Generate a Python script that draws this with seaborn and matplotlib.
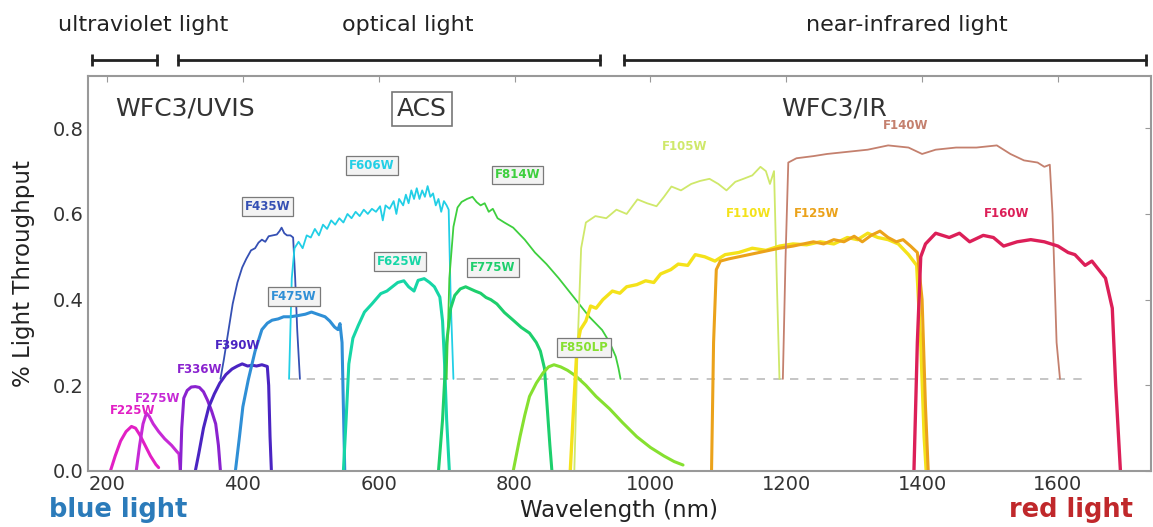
import matplotlib
matplotlib.use("Agg")
import matplotlib.pyplot as plt
import seaborn as sns

# filter throughput curves (wavelength in nm, throughput fraction)
wl_f225w = [205, 212, 220, 228, 236, 242, 248, 256, 264, 272, 276]
tp_f225w = [0.0, 0.035, 0.07, 0.092, 0.104, 0.1, 0.085, 0.06, 0.035, 0.015, 0.008]

wl_f275w = [243, 248, 253, 258, 262, 268, 276, 285, 295, 303, 306, 308]
tp_f275w = [0.0, 0.06, 0.11, 0.135, 0.128, 0.11, 0.092, 0.075, 0.06, 0.045, 0.04, 0.0]

wl_f336w = [308, 310, 313, 318, 324, 330, 336, 342, 348, 354, 360, 364, 367]
tp_f336w = [0.0, 0.1, 0.17, 0.188, 0.196, 0.197, 0.195, 0.185, 0.165, 0.14, 0.11, 0.06, 0.0]

wl_f390w = [330, 335, 342, 350, 358, 366, 375, 384, 392, 399, 407, 414, 420, 428, 436, 438, 440, 442]
tp_f390w = [0.0, 0.04, 0.1, 0.15, 0.18, 0.205, 0.225, 0.238, 0.245, 0.25, 0.245, 0.247, 0.245,
            0.248, 0.244, 0.2, 0.08, 0.0]

wl_f435w = [367, 372, 378, 385, 392, 399, 405, 412, 418, 423, 428, 433, 438, 444, 450, 454, 457,
            461, 465, 470, 474, 477, 480, 484]
tp_f435w = [0.215, 0.26, 0.32, 0.39, 0.44, 0.475, 0.495, 0.515, 0.52, 0.533, 0.54, 0.535, 0.548,
            0.55, 0.552, 0.56, 0.568, 0.555, 0.55, 0.55, 0.545, 0.45, 0.33, 0.215]

wl_f475w = [389, 395, 400, 408, 418, 428, 436, 443, 452, 460, 470, 482, 492, 501, 510, 521, 528,
            535, 540, 543, 546, 548, 550]
tp_f475w = [0.0, 0.08, 0.15, 0.213, 0.28, 0.33, 0.345, 0.352, 0.355, 0.36, 0.36, 0.363, 0.366,
            0.371, 0.366, 0.36, 0.35, 0.336, 0.33, 0.344, 0.3, 0.15, 0.0]

wl_f606w = [468, 472, 476, 482, 488, 494, 500, 506, 512, 518, 524, 530, 536, 542, 548, 554, 560,
            566, 572, 578, 584, 590, 596, 602, 606, 610, 616, 622, 626, 630, 636, 640, 644, 648,
            652, 656, 660, 664, 668, 672, 676, 680, 684, 688, 692, 696, 700, 703, 706, 710]
tp_f606w = [0.215, 0.45, 0.52, 0.535, 0.52, 0.55, 0.545, 0.565, 0.55, 0.575, 0.565, 0.585, 0.575,
            0.59, 0.58, 0.6, 0.59, 0.605, 0.595, 0.61, 0.6, 0.612, 0.605, 0.618, 0.585, 0.62,
            0.612, 0.63, 0.6, 0.635, 0.62, 0.645, 0.625, 0.655, 0.635, 0.66, 0.635, 0.655, 0.64,
            0.665, 0.64, 0.648, 0.62, 0.635, 0.605, 0.63, 0.62, 0.61, 0.4, 0.215]

wl_f625w = [548, 552, 556, 562, 570, 579, 590, 603, 612, 620, 628, 637, 644, 652, 658, 667, 675,
            682, 690, 694, 697, 700, 704]
tp_f625w = [0.0, 0.12, 0.25, 0.31, 0.34, 0.371, 0.39, 0.414, 0.42, 0.43, 0.44, 0.444, 0.43, 0.42,
            0.445, 0.449, 0.44, 0.43, 0.406, 0.35, 0.25, 0.12, 0.0]

wl_f775w = [688, 694, 700, 706, 712, 720, 728, 735, 742, 750, 758, 765, 774, 785, 798, 810, 822,
            832, 838, 844, 848, 852, 855]
tp_f775w = [0.0, 0.12, 0.3, 0.38, 0.41, 0.425, 0.43, 0.425, 0.42, 0.415, 0.405, 0.4, 0.39, 0.37,
            0.352, 0.335, 0.322, 0.3, 0.28, 0.24, 0.15, 0.06, 0.0]

wl_f814w = [700, 704, 710, 716, 722, 730, 738, 744, 750, 756, 762, 768, 775, 785, 798, 815, 830,
            847, 865, 880, 895, 910, 929, 940, 949, 953, 956]
tp_f814w = [0.215, 0.45, 0.57, 0.615, 0.628, 0.635, 0.64, 0.628, 0.62, 0.625, 0.605, 0.612, 0.59,
            0.58, 0.568, 0.54, 0.51, 0.483, 0.45, 0.42, 0.39, 0.36, 0.329, 0.3, 0.267, 0.24, 0.215]

wl_f850lp = [798, 808, 815, 822, 832, 842, 850, 858, 868, 878, 890, 905, 920, 940, 959, 980, 1000,
             1020, 1035, 1048]
tp_f850lp = [0.0, 0.08, 0.13, 0.174, 0.205, 0.229, 0.243, 0.248, 0.243, 0.235, 0.222, 0.2, 0.174,
             0.145, 0.113, 0.08, 0.055, 0.035, 0.022, 0.014]

wl_f105w = [888, 893, 898, 905, 919, 935, 950, 965, 981, 995, 1009, 1020, 1031, 1045, 1060, 1073,
            1087, 1100, 1112, 1125, 1137, 1150, 1162, 1170, 1176, 1182, 1186, 1190]
tp_f105w = [0.0, 0.3, 0.52, 0.58, 0.595, 0.59, 0.61, 0.6, 0.634, 0.625, 0.618, 0.64, 0.664, 0.655,
            0.67, 0.677, 0.682, 0.67, 0.655, 0.675, 0.682, 0.69, 0.71, 0.7, 0.67, 0.7, 0.45, 0.215]

wl_f110w = [882, 887, 892, 897, 905, 912, 920, 930, 944, 955, 965, 980, 993, 1005, 1015, 1030,
            1041, 1055, 1066, 1080, 1095, 1110, 1130, 1150, 1170, 1190, 1210, 1230, 1250, 1270,
            1290, 1305, 1320, 1335, 1350, 1365, 1380, 1392, 1398, 1403, 1406]
tp_f110w = [0.0, 0.15, 0.29, 0.33, 0.35, 0.385, 0.38, 0.4, 0.42, 0.415, 0.43, 0.435, 0.444, 0.44,
            0.46, 0.47, 0.483, 0.48, 0.505, 0.5, 0.49, 0.505, 0.51, 0.52, 0.515, 0.525, 0.53,
            0.528, 0.535, 0.53, 0.545, 0.54, 0.555, 0.545, 0.54, 0.53, 0.505, 0.48, 0.3, 0.08, 0.0]

wl_f125w = [1090, 1093, 1097, 1103, 1115, 1130, 1145, 1160, 1175, 1190, 1210, 1225, 1240, 1255,
            1270, 1285, 1300, 1312, 1325, 1338, 1350, 1362, 1372, 1383, 1393, 1400, 1405, 1409]
tp_f125w = [0.0, 0.3, 0.47, 0.49, 0.495, 0.5, 0.505, 0.51, 0.515, 0.52, 0.525, 0.53, 0.535, 0.53,
            0.54, 0.535, 0.548, 0.535, 0.55, 0.56, 0.545, 0.535, 0.54, 0.525, 0.51, 0.4, 0.15, 0.0]

wl_f140w = [1195, 1199, 1203, 1215, 1240, 1260, 1290, 1320, 1350, 1380, 1400, 1420, 1450, 1480,
            1510, 1530, 1550, 1570, 1580, 1588, 1592, 1598, 1603]
tp_f140w = [0.215, 0.5, 0.72, 0.73, 0.735, 0.74, 0.745, 0.75, 0.76, 0.755, 0.74, 0.75, 0.755,
            0.755, 0.76, 0.74, 0.725, 0.72, 0.71, 0.715, 0.6, 0.3, 0.215]

wl_f160w = [1388, 1393, 1398, 1405, 1420, 1440, 1455, 1470, 1490, 1505, 1520, 1540, 1560, 1580,
            1600, 1615, 1625, 1640, 1650, 1660, 1670, 1680, 1685, 1692]
tp_f160w = [0.0, 0.3, 0.5, 0.53, 0.555, 0.545, 0.555, 0.535, 0.55, 0.545, 0.525, 0.535, 0.54,
            0.535, 0.525, 0.51, 0.505, 0.48, 0.49, 0.47, 0.45, 0.38, 0.2, 0.0]

# filter label positions (nm, throughput) and whether boxed (ACS-style)
filter_names = ["F225W", "F275W", "F336W", "F390W", "F435W", "F475W", "F606W", "F625W",
                "F775W", "F814W", "F850LP", "F105W", "F110W", "F125W", "F140W", "F160W"]
label_wl = [238, 274, 337, 393, 436, 475, 590, 631, 768, 804, 902, 1050, 1144, 1245, 1376, 1525]
label_tp = [0.142, 0.170, 0.238, 0.292, 0.618, 0.408, 0.714, 0.488, 0.476, 0.691, 0.289,
            0.758, 0.602, 0.602, 0.807, 0.602]
label_boxed = [False, False, False, False, True, True, True, True, True, True, True,
               False, False, False, False, False]

# spectral regions along the top
region_names = ["ultraviolet light", "optical light", "near-infrared light"]
region_start = [178, 305, 961]
region_end = [274, 926, 1729]
region_label_x = [253, 643, 1378]

baseline_tp = 0.215
baseline_range = [470, 1638]

curves = [(wl_f225w, tp_f225w), (wl_f275w, tp_f275w), (wl_f336w, tp_f336w), (wl_f390w, tp_f390w),
          (wl_f435w, tp_f435w), (wl_f475w, tp_f475w), (wl_f606w, tp_f606w), (wl_f625w, tp_f625w),
          (wl_f775w, tp_f775w), (wl_f814w, tp_f814w), (wl_f850lp, tp_f850lp), (wl_f105w, tp_f105w),
          (wl_f110w, tp_f110w), (wl_f125w, tp_f125w), (wl_f140w, tp_f140w), (wl_f160w, tp_f160w)]

colors = ["#e21fc4", "#c62ad6", "#8a22cf", "#4a24c2", "#3550b4", "#2f8fd6", "#22cfe6", "#16d6a6",
          "#1dcf6c", "#3ecf3e", "#86e030", "#cfe86a", "#f4e21a", "#eba21a", "#c4806e", "#dc1f58"]
widths = [2.2, 2.2, 2.2, 2.2, 1.3, 2.2, 1.3, 2.2, 2.2, 1.3, 2.2, 1.3, 2.4, 2.2, 1.3, 2.4]

sns.set_style("white")
plt.rcParams['font.family'] = ['DejaVu Sans']

fig = plt.figure(figsize=(11.53, 5.27), dpi=100)
ax = fig.add_axes([88 / 1153, 56 / 527, 1063 / 1153, 395 / 527])

# dashed reference line
ax.plot(baseline_range, [baseline_tp, baseline_tp], color="#bbbbbb", ls=(0, (5, 5)), lw=1.2, zorder=1)

for (wl, tp), c, lw in zip(curves, colors, widths):
    sns.lineplot(x=wl, y=tp, color=c, lw=lw, ax=ax, sort=False, estimator=None, zorder=2)

for name, x, y, boxed, c in zip(filter_names, label_wl, label_tp, label_boxed, colors):
    kw = dict(ha="center", va="center", fontsize=8.5, fontweight="bold", color=c, zorder=4)
    if boxed:
        kw["bbox"] = dict(boxstyle="square,pad=0.25", fc="#f3f3f3", ec="#7a7a7a", lw=0.9)
    ax.text(x, y, name, **kw)

# instrument names
ax.text(212, 0.846, "WFC3/UVIS", fontsize=18, color="#333333", va="center", ha="left")
ax.text(664, 0.846, "ACS", fontsize=18, color="#333333", va="center", ha="center",
        bbox=dict(boxstyle="square,pad=0.2", fc="white", ec="#777777", lw=1.2))
ax.text(1271, 0.846, "WFC3/IR", fontsize=18, color="#333333", va="center", ha="center")

# region bars above the axes
trans = ax.get_xaxis_transform()
for name, x0, x1, xl in zip(region_names, region_start, region_end, region_label_x):
    ax.plot([x0, x1], [1.04, 1.04], transform=trans, clip_on=False, color="#222222", lw=2,
            marker="|", markersize=9, markeredgewidth=2)
    ax.text(xl, 1.13, name, transform=trans, ha="center", va="center", fontsize=16, color="#222222")

ax.set_xlim(172, 1737)
ax.set_ylim(0, 0.922)
ax.set_xticks([200, 400, 600, 800, 1000, 1200, 1400, 1600])
ax.set_yticks([0.0, 0.2, 0.4, 0.6, 0.8])
ax.set_yticklabels(["0.0", "0.2", "0.4", "0.6", "0.8"])
ax.tick_params(direction="in", length=4, color="#999999", labelsize=14, labelcolor="#333333",
               top=True, right=True, pad=3)
for s in ax.spines.values():
    s.set_color("#999999")
    s.set_linewidth(1.5)
ax.set_xlabel("")
ax.set_ylabel("")

ax.text(0.5, -0.099, "Wavelength (nm)", transform=ax.transAxes, ha="center", va="center",
        fontsize=16.5, color="#222222")
ax.text(-0.061, 0.5, "% Light Throughput", transform=ax.transAxes, ha="center", va="center",
        rotation=90, fontsize=16.5, color="#222222")
ax.text(-0.037, -0.099, "blue light", transform=ax.transAxes, ha="left", va="center",
        fontsize=18.5, fontweight="bold", color="#2b7bba")
ax.text(0.983, -0.099, "red light", transform=ax.transAxes, ha="right", va="center",
        fontsize=18.5, fontweight="bold", color="#c0282b")

fig.savefig("out.png", dpi=100)
